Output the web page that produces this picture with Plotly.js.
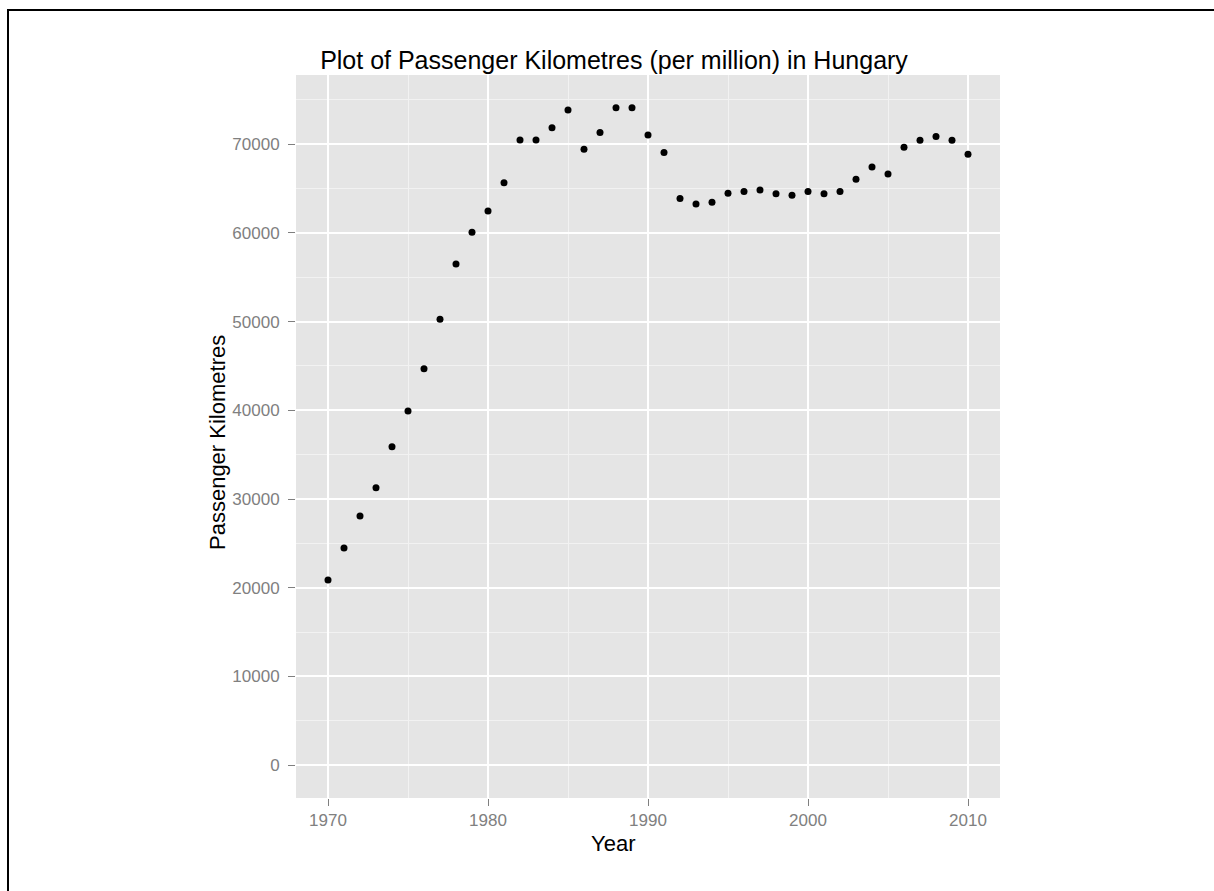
<!DOCTYPE html>
<html>
<head>
<meta charset="utf-8">
<script src="https://cdn.plot.ly/plotly-3.0.1.min.js"></script>
<style>
  html, body { margin: 0; padding: 0; background: #ffffff; }
  #chart { width: 1214px; height: 891px; position: absolute; left: 0; top: 0; }
  #frame { position: absolute; left: 7px; top: 9px; width: 1220px; height: 900px;
           border-top: 2px solid #000; border-left: 2px solid #000; pointer-events: none; }
</style>
</head>
<body>
<div id="chart"></div>
<div id="frame"></div>
<script>
// Data
const years = [1970, 1971, 1972, 1973, 1974, 1975, 1976, 1977, 1978, 1979,
               1980, 1981, 1982, 1983, 1984, 1985, 1986, 1987, 1988, 1989,
               1990, 1991, 1992, 1993, 1994, 1995, 1996, 1997, 1998, 1999,
               2000, 2001, 2002, 2003, 2004, 2005, 2006, 2007, 2008, 2009, 2010];
const passengerKm = [20860, 24470, 28080, 31280, 35900, 39920, 44690, 50270, 56500, 60080,
                     62480, 65670, 70490, 70490, 71870, 73870, 69440, 71310, 74100, 74100,
                     71050, 69060, 63870, 63270, 63460, 64470, 64660, 64850, 64430, 64250,
                     64660, 64430, 64660, 66050, 67440, 66650, 69660, 70450, 70860, 70450, 68870];
const xTickVals = [1970, 1980, 1990, 2000, 2010];
const yTickVals = [0, 10000, 20000, 30000, 40000, 50000, 60000, 70000];

const chartTitle = 'Plot of Passenger Kilometres (per million) in Hungary';
const xTitle = 'Year';
const yTitle = 'Passenger Kilometres';

const FONT = 'Liberation Sans, Arial, Helvetica, sans-serif';

const trace = {
  type: 'scatter',
  mode: 'markers',
  x: years,
  y: passengerKm,
  marker: { color: '#000000', size: 7, line: { width: 0 } },
  hoverinfo: 'x+y'
};

const axisCommon = {
  showline: false,
  zeroline: false,
  showgrid: true,
  gridcolor: '#FFFFFF',
  gridwidth: 1.8,
  ticks: 'outside',
  ticklen: 7,
  tickwidth: 1,
  tickcolor: '#7F7F7F',
  tickfont: { family: FONT, size: 17, color: '#808080' },
  fixedrange: true
};

const layout = {
  width: 1214,
  height: 891,
  margin: { l: 296, r: 214, t: 75, b: 93, pad: 0 },
  paper_bgcolor: '#FFFFFF',
  plot_bgcolor: '#E5E5E5',
  showlegend: false,
  font: { family: FONT, color: '#000000' },
  title: {
    text: chartTitle,
    font: { family: FONT, size: 25, color: '#000000' },
    xref: 'container', yref: 'container',
    x: 614 / 1214, xanchor: 'center',
    y: 1 - 60 / 891, yanchor: 'middle'
  },
  xaxis: Object.assign({}, axisCommon, {
    range: [1968, 2012],
    tickmode: 'array',
    tickvals: xTickVals,
    ticktext: xTickVals.map(String),
    ticklabelstandoff: 0,
    minor: { dtick: 5, tick0: 1965, showgrid: true, gridcolor: '#F2F2F2', gridwidth: 0.9, ticks: '' }
  }),
  yaxis: Object.assign({}, axisCommon, {
    range: [-3705, 77805],
    tickmode: 'array',
    tickvals: yTickVals,
    ticktext: yTickVals.map(String),
    ticklabelstandoff: 5,
    minor: { dtick: 5000, tick0: 0, showgrid: true, gridcolor: '#F2F2F2', gridwidth: 0.9, ticks: '' }
  }),
  annotations: [
    {
      text: xTitle, showarrow: false,
      xref: 'paper', yref: 'paper',
      x: (613 - 296) / 704, y: (798 - 843) / 723,
      xanchor: 'center', yanchor: 'middle',
      font: { family: FONT, size: 22, color: '#000000' }
    },
    {
      text: yTitle, showarrow: false, textangle: -90,
      xref: 'paper', yref: 'paper',
      x: (217 - 296) / 704, y: (798 - 443) / 723,
      xanchor: 'center', yanchor: 'middle',
      font: { family: FONT, size: 22, color: '#000000' }
    }
  ]
};

Plotly.newPlot('chart', [trace], layout, { displayModeBar: false, staticPlot: false });
</script>
</body>
</html>
